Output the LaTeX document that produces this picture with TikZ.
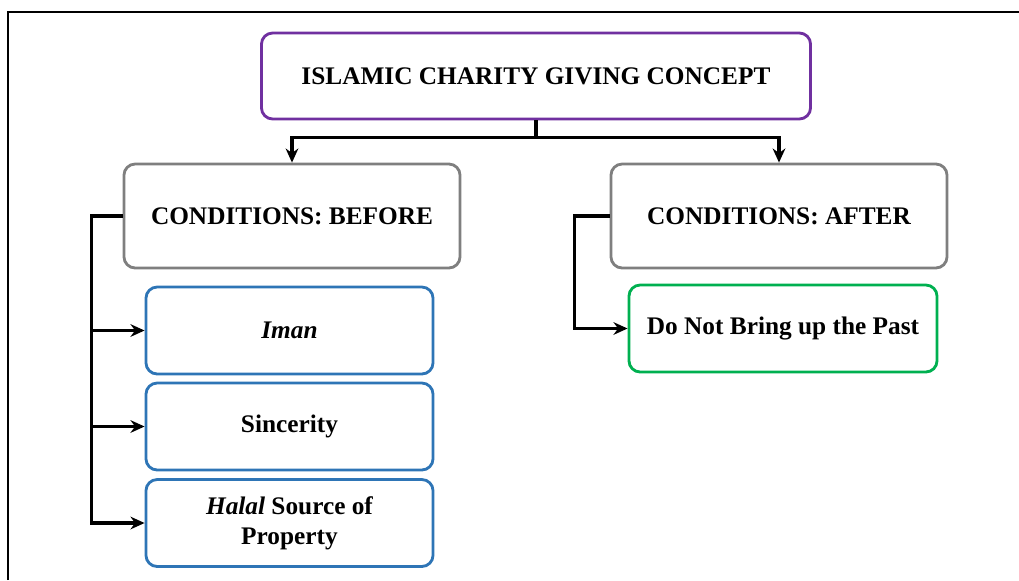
\documentclass[tikz,border=0pt]{standalone}
\usepackage{fontspec}
\setmainfont{Liberation Serif}[BoldFont={Liberation Serif Bold},ItalicFont={Liberation Serif Italic},BoldItalicFont={Liberation Serif Bold Italic}]
\usetikzlibrary{arrows.meta}
\definecolor{boxpurple}{HTML}{7030A0}
\definecolor{boxgray}{HTML}{7F7F7F}
\definecolor{boxblue}{HTML}{2E75B6}
\definecolor{boxgreen}{HTML}{00B050}
\tikzstyle{box}=[rectangle, rounded corners=8pt, line width=2pt, fill=white, align=center, font=\fontsize{18}{21.5}\selectfont\bfseries]
\tikzstyle{head}=[box, draw=boxpurple, minimum width=13.725cm, minimum height=2.15cm]
\tikzstyle{cond}=[box, draw=boxgray, minimum width=8.4cm, minimum height=2.6cm]
\tikzstyle{item}=[box, draw=boxblue, minimum width=7.175cm, minimum height=2.175cm]
\tikzstyle{after}=[box, draw=boxgreen, minimum width=7.7cm, minimum height=2.175cm]
\tikzstyle{arrow} = [line width=2.2pt,->,>={Stealth[length=10pt,width=9pt]}]

\begin{document}
\begin{tikzpicture}[x=0.025cm,y=-0.025cm]
\useasboundingbox (0,0) rectangle (1019,580);
\draw[line width=1.2pt] (8,580)--(8,12)--(1019,12);

\node[head] (concept) at (536,76) {ISLAMIC CHARITY GIVING CONCEPT};
\node[cond] (before) at (292,216) {CONDITIONS: BEFORE};
\node[cond] (afterc) at (779,216) {CONDITIONS: AFTER};

\node[item] (iman) at (289.5,330.5) {\itshape Iman};
\node[item] (sincerity) at (289.5,426.5) {Sincerity};
\node[item] (halal) at (289.5,523) {\itshape Halal\upshape{} Source of\\ Property};
\node[after] (past) at (783,328.5) {Do Not Bring up the Past};

\foreach \c in {before,afterc}{
	\draw[arrow] (concept.south)--++(0,17)-|(\c.north);}
\foreach \c in {iman,sincerity,halal}{
	\draw[arrow] (before.west)--++(-31,0)|-(\c.west);}
\draw[arrow] (afterc.west)--++(-35,0)|-(past.west);
\end{tikzpicture}
\end{document}
